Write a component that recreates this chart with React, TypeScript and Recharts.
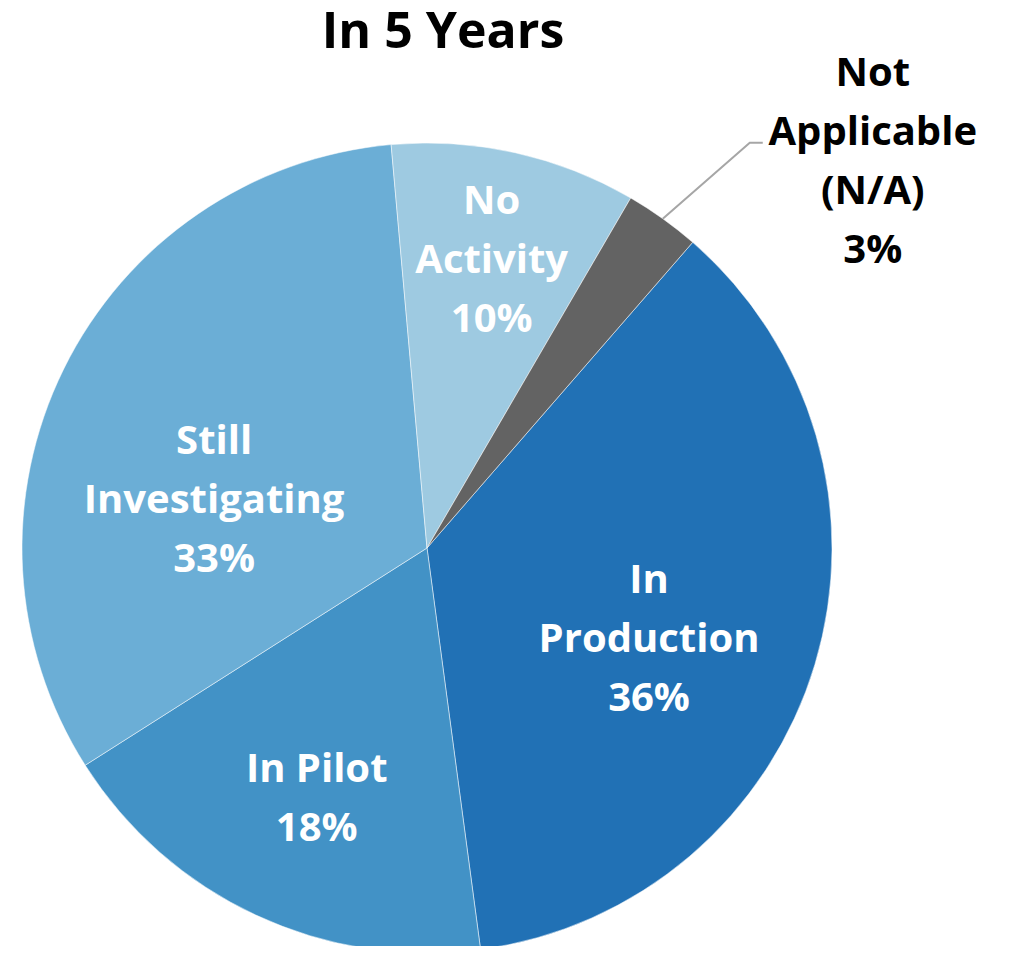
import React from "react";
import { PieChart, Pie, Cell } from "recharts";

const categories = [
  "In Production",
  "In Pilot",
  "Still Investigating",
  "No Activity",
  "Not Applicable (N/A)",
];
const shares = [36.5, 18.1, 32.6, 9.8, 3.0];
const percentLabels = ["36%", "18%", "33%", "10%", "3%"];
const labelLines = [
  ["In", "Production"],
  ["In Pilot"],
  ["Still", "Investigating"],
  ["No", "Activity"],
  ["Not", "Applicable", "(N/A)"],
];

const colors = ["#2171b5", "#4292c6", "#6baed6", "#9ecae1", "#636363"];

// where each label sits: share of radius + clockwise shift from the slice mid angle
const labelPlacement = [
  { r: 0.59, shift: 5 },
  { r: 0.67, shift: -1 },
  { r: 0.54, shift: -13 },
  { r: 0.735, shift: 0 },
  null, // outside, with a leader line
];

const RAD = Math.PI / 180;
const LINE_H = 59;
const labelFont = { fontFamily: "Open Sans", fontWeight: 700, fontSize: 40 };

const data = categories.map((name, i) => ({ name, value: shares[i] }));

const renderLabel = (props: any) => {
  const { cx, cy, midAngle, outerRadius, index } = props;
  const lines = [...labelLines[index], percentLabels[index]];
  const place = labelPlacement[index];

  if (place) {
    const a = (midAngle - place.shift) * RAD;
    const x = cx + outerRadius * place.r * Math.cos(a);
    const y = cy - outerRadius * place.r * Math.sin(a);
    return (
      <g>
        {lines.map((t, i) => (
          <text
            key={i}
            x={x}
            y={y + (i - (lines.length - 1) / 2) * LINE_H}
            textAnchor="middle"
            dominantBaseline="central"
            fill="#ffffff"
            style={labelFont}
          >
            {t}
          </text>
        ))}
      </g>
    );
  }

  // small slice: label outside the pie
  const a = midAngle * RAD;
  const sx = cx + outerRadius * Math.cos(a);
  const sy = cy - outerRadius * Math.sin(a);
  const mx = sx + 87;
  const my = sy - 76;
  const ex = mx + 13;
  const tx = ex + 110;
  const ty = my + 16;
  return (
    <g>
      <polyline
        points={`${sx},${sy} ${mx},${my} ${ex},${my}`}
        fill="none"
        stroke="#a6a6a6"
        strokeWidth={2}
      />
      {lines.map((t, i) => (
        <text
          key={i}
          x={tx}
          y={ty + (i - (lines.length - 1) / 2) * LINE_H}
          textAnchor="middle"
          dominantBaseline="central"
          fill="#000000"
          style={labelFont}
        >
          {t}
        </text>
      ))}
    </g>
  );
};

export default function App() {
  return (
    <div
      style={{ position: "relative", width: 994, height: 946, marginBottom: -8 }}
    >
      <svg
        width={870}
        height={60}
        style={{ position: "absolute", left: 0, top: 0, zIndex: 2 }}
      >
        <text
          x={435}
          y={40}
          textAnchor="middle"
          style={{ fontFamily: "Open Sans", fontWeight: 700, fontSize: 50 }}
          fill="#000000"
        >
          In 5 Years
        </text>
      </svg>
      <PieChart
        width={994}
        height={946}
        margin={{ top: 0, right: 0, bottom: 0, left: 0 }}
      >
        <Pie
          data={data}
          dataKey="value"
          nameKey="name"
          cx={419}
          cy={540}
          outerRadius={405}
          startAngle={49}
          endAngle={-311}
          stroke="#ffffff"
          strokeWidth={0.5}
          label={renderLabel}
          labelLine={false}
          isAnimationActive={false}
        >
          {data.map((d, i) => (
            <Cell key={d.name} fill={colors[i]} />
          ))}
        </Pie>
      </PieChart>
    </div>
  );
}
